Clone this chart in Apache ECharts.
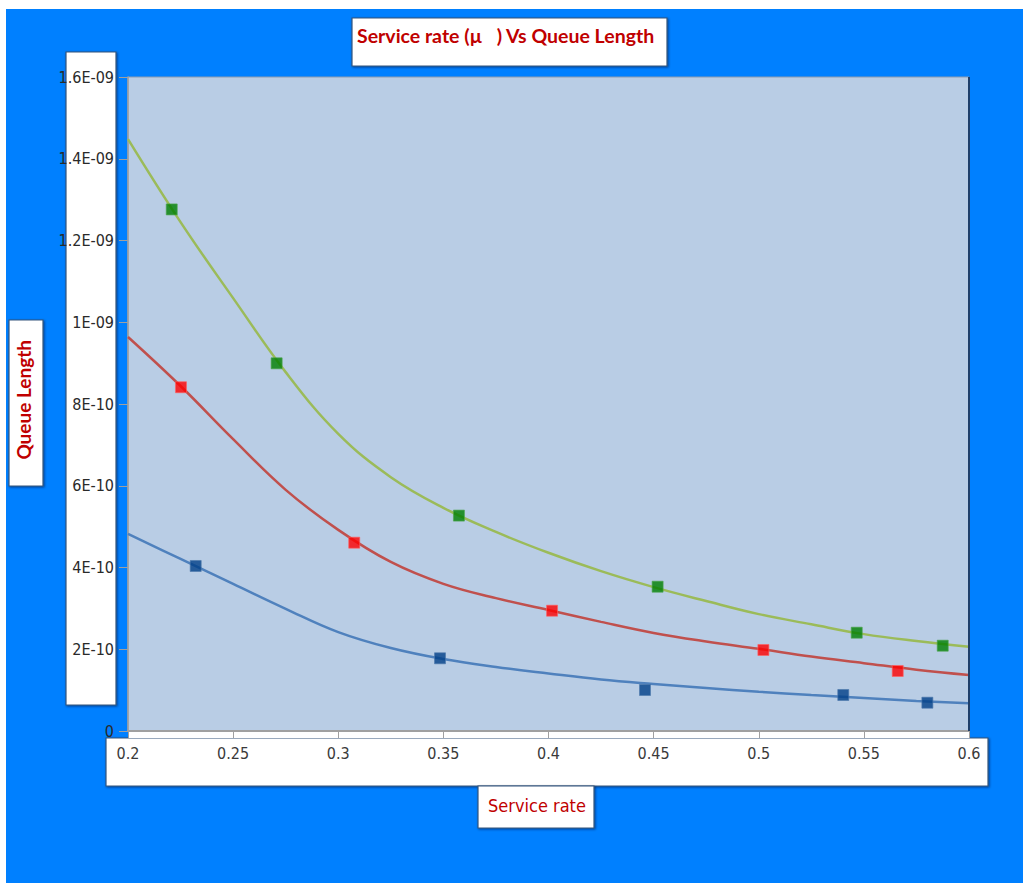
<!DOCTYPE html>
<html>
<head>
<meta charset="utf-8">
<script src="https://cdn.jsdelivr.net/npm/echarts@6/dist/echarts.min.js"></script>
<style>
html,body{margin:0;padding:0;background:#ffffff;}
#chart{width:1023px;height:883px;}
</style>
</head>
<body>
<div id="chart"></div>
<script>
// ---- data ----
const xTickLabels = ['0.2','0.25','0.3','0.35','0.4','0.45','0.5','0.55','0.6'];
const yTickLabels = ['0','2E-10','4E-10','6E-10','8E-10','1E-09','1.2E-09','1.4E-09','1.6E-09'];

// measured points (markers)
const greenX = [0.2208, 0.2707, 0.3574, 0.4519, 0.5466, 0.5875];
const greenY = [1.276e-9, 8.996e-10, 5.27e-10, 3.53e-10, 2.405e-10, 2.087e-10];
const redX   = [0.2252, 0.3076, 0.4017, 0.5022, 0.5661];
const redY   = [8.41e-10, 4.607e-10, 2.943e-10, 1.982e-10, 1.468e-10];
const blueX  = [0.2322, 0.3484, 0.4459, 0.5402, 0.5802];
const blueY  = [4.037e-10, 1.779e-10, 1.003e-10, 0.881e-10, 0.692e-10];

// trend curves
const trendX     = [0.2, 0.225, 0.25, 0.275, 0.3, 0.325, 0.35, 0.375, 0.4, 0.425, 0.45, 0.475, 0.5, 0.525, 0.55, 0.575, 0.6];
const greenTrend = [1.448e-9, 1.245e-9, 1.059e-9, 8.78e-10, 7.27e-10, 6.21e-10, 5.46e-10, 4.87e-10, 4.36e-10, 3.91e-10, 3.52e-10, 3.18e-10, 2.86e-10, 2.61e-10, 2.37e-10, 2.20e-10, 2.06e-10];
const redTrend   = [9.64e-10, 8.44e-10, 7.14e-10, 5.90e-10, 4.92e-10, 4.135e-10, 3.60e-10, 3.25e-10, 2.96e-10, 2.67e-10, 2.40e-10, 2.19e-10, 2.01e-10, 1.82e-10, 1.66e-10, 1.50e-10, 1.37e-10];
const blueTrend  = [4.82e-10, 4.21e-10, 3.60e-10, 2.99e-10, 2.42e-10, 2.03e-10, 1.76e-10, 1.566e-10, 1.407e-10, 1.26e-10, 1.15e-10, 1.052e-10, 0.961e-10, 0.881e-10, 0.807e-10, 0.734e-10, 0.678e-10];

const zip = (xs, ys) => xs.map((x, i) => [x, ys[i]]);

const chart = echarts.init(document.getElementById('chart'), null, {renderer: 'svg'});

const boxStyle = {fill: '#ffffff', stroke: '#34557d', lineWidth: 1.2, shadowBlur: 2, shadowColor: 'rgba(0,0,40,0.5)', shadowOffsetX: 1, shadowOffsetY: 1};
const labelFont = "'Liberation Sans Narrow','DejaVu Sans Condensed',sans-serif";
const titleFont = "Lato,'Open Sans',sans-serif";

const option = {
  backgroundColor: '#ffffff',
  animation: false,
  graphic: [
    {type: 'rect', z: -20, shape: {x: 6, y: 9, width: 1100, height: 900}, style: {fill: '#0080ff'}, silent: true},
    {type: 'rect', z: -10, shape: {x: 66, y: 52, width: 50, height: 653}, style: boxStyle, silent: true},
    {type: 'rect', z: -10, shape: {x: 106, y: 738, width: 882, height: 48}, style: boxStyle, silent: true},
    {type: 'rect', z: -10, shape: {x: 128, y: 731, width: 841, height: 7}, style: {fill: '#ffffff'}, silent: true},
    {type: 'rect', z: -10, shape: {x: 352, y: 18, width: 315, height: 48}, style: boxStyle, silent: true},
    {type: 'rect', z: -10, shape: {x: 9, y: 320, width: 34, height: 166}, style: boxStyle, silent: true},
    {type: 'rect', z: -10, shape: {x: 478, y: 786, width: 116, height: 42}, style: boxStyle, silent: true},
    {type: 'rect', z: 5, shape: {x: 968, y: 77, width: 2, height: 654}, style: {fill: '#1f3f6a'}, silent: true},
    {type: 'text', z: 10, left: 357, top: 25,
      style: {text: 'Service rate (µ   ) Vs Queue Length', fill: '#c00000', font: "bold 19.5px " + titleFont}},
    {type: 'text', z: 10, left: 14, top: 340, rotation: Math.PI / 2,
      style: {text: 'Queue Length', fill: '#c00000', font: "bold 19px " + titleFont}},
    {type: 'text', z: 10, left: 488, top: 796,
      style: {text: 'Service rate', fill: '#c00000', font: "18px " + labelFont}}
  ],
  grid: {left: 128, right: 54, top: 77, bottom: 152, show: true, backgroundColor: '#b9cde5', borderColor: '#8e9cb0', borderWidth: 1},
  xAxis: {
    type: 'value', min: 0.2, max: 0.6, interval: 0.05,
    axisLine: {show: true, onZero: false, lineStyle: {color: '#a0a0a0', width: 2}},
    axisTick: {show: true, inside: false, length: 7, lineStyle: {color: '#a0a0a0'}},
    splitLine: {show: false},
    axisLabel: {margin: 14, color: '#3a3a3a', fontSize: 16, fontFamily: labelFont,
      formatter: (v) => { const i = Math.round((v - 0.2) / 0.05); return xTickLabels[i] ?? ''; }}
  },
  yAxis: {
    type: 'value', min: 0, max: 1.6e-9, interval: 2e-10,
    axisLine: {show: true, lineStyle: {color: '#a0a0a0', width: 1.5}},
    axisTick: {show: true, inside: false, length: 9, lineStyle: {color: '#a0a0a0'}},
    splitLine: {show: false},
    axisLabel: {margin: 14, color: '#2a2a2a', fontSize: 16, fontFamily: labelFont,
      formatter: (v) => { const i = Math.round(v / 2e-10); return yTickLabels[i] ?? ''; }}
  },
  series: [
    {type: 'line', data: zip(trendX, greenTrend), smooth: 0.4, showSymbol: false, lineStyle: {color: '#9bbb59', width: 2.5}, z: 2},
    {type: 'line', data: zip(trendX, redTrend), smooth: 0.4, showSymbol: false, lineStyle: {color: '#c0504d', width: 2.5}, z: 2},
    {type: 'line', data: zip(trendX, blueTrend), smooth: 0.4, showSymbol: false, lineStyle: {color: '#4f81bd', width: 2.5}, z: 2},
    {type: 'scatter', data: zip(greenX, greenY), symbol: 'rect', symbolSize: 11, itemStyle: {color: '#008000', borderColor: '#4da64d', borderWidth: 0.8}, z: 3},
    {type: 'scatter', data: zip(redX, redY), symbol: 'rect', symbolSize: 11, itemStyle: {color: '#ff0000', borderColor: '#ff6060', borderWidth: 0.8}, z: 3},
    {type: 'scatter', data: zip(blueX, blueY), symbol: 'rect', symbolSize: 11, itemStyle: {color: '#003f87', borderColor: '#4d79ab', borderWidth: 0.8}, z: 3}
  ]
};
chart.setOption(option);
</script>
</body>
</html>
